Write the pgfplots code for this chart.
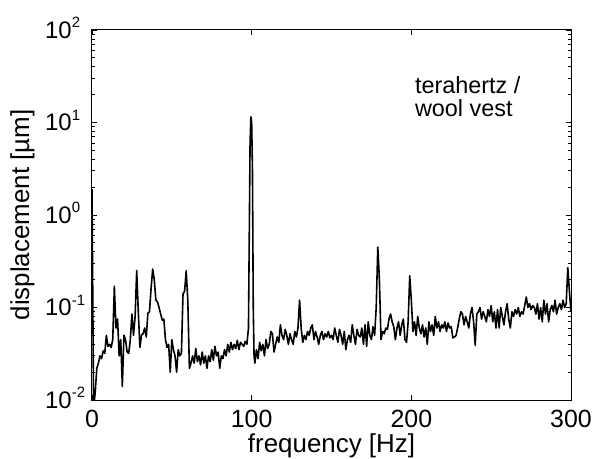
\documentclass[border=0pt]{standalone}
\usepackage{pgfplots}
\pgfplotsset{compat=1.18}
\usepackage{pgfplotstable}
\usepackage{fontspec}
\setmainfont{Liberation Sans}
\newcommand{\tenpow}[1]{10\rlap{\smash{\raisebox{10.5bp}{\fontsize{15}{15}\selectfont #1}}}}
\pgfplotstableread{
f v
0 1.9
1 0.008
2 0.012
3 0.022
4 0.025
5 0.03
6 0.028
7 0.034
8 0.032
9 0.05
10 0.038
11 0.04
12 0.037
13 0.045
14 0.17
15 0.06
16 0.075
17 0.03
18 0.045
19 0.014
20 0.05
21 0.045
22 0.033
23 0.032
24 0.045
25 0.085
26 0.05
27 0.08
28 0.25
29 0.09
30 0.037
31 0.05
32 0.052
33 0.06
34 0.048
35 0.087
36 0.09
37 0.16
38 0.26
39 0.2
40 0.12
41 0.115
42 0.1
43 0.085
44 0.073
45 0.075
46 0.045
47 0.037
48 0.04
49 0.02
50 0.045
51 0.035
52 0.03
53 0.02
54 0.035
55 0.03
56 0.032
57 0.14
58 0.15
59 0.25
60 0.12
61 0.022
62 0.025
63 0.03
64 0.025
65 0.036
66 0.026
67 0.03
68 0.024
69 0.033
70 0.025
71 0.03
72 0.022
73 0.03
74 0.026
75 0.035
76 0.027
77 0.038
78 0.03
79 0.033
80 0.022
81 0.03
82 0.028
83 0.035
84 0.03
85 0.04
86 0.033
87 0.042
88 0.035
89 0.04
90 0.036
91 0.044
92 0.035
93 0.042
94 0.04
95 0.038
96 0.043
97 0.04
98 0.06
99 6
99.5 11.5
100 10
100.5 3
101 0.1
101.5 0.03
102 0.025
103 0.035
104 0.028
105 0.042
106 0.034
107 0.04
108 0.03
109 0.045
110 0.036
111 0.04
112 0.055
113 0.052
114 0.033
115 0.04
116 0.048
117 0.042
118 0.065
119 0.05
120 0.045
121 0.058
122 0.05
123 0.04
124 0.052
125 0.045
126 0.04
127 0.055
128 0.048
129 0.06
130 0.12
131 0.06
132 0.042
133 0.05
134 0.045
135 0.055
136 0.05
137 0.06
138 0.065
139 0.045
140 0.055
141 0.048
142 0.04
143 0.05
144 0.055
145 0.045
146 0.052
147 0.048
148 0.055
149 0.047
150 0.05
151 0.045
152 0.06
153 0.05
154 0.042
155 0.058
156 0.05
157 0.04
158 0.055
159 0.035
160 0.045
161 0.05
162 0.042
163 0.065
164 0.05
165 0.04
166 0.058
167 0.05
168 0.048
169 0.06
170 0.04
171 0.065
172 0.038
173 0.07
174 0.05
175 0.045
176 0.062
177 0.05
178 0.1
179 0.45
180 0.2
181 0.045
182 0.055
183 0.052
184 0.06
185 0.058
186 0.075
187 0.085
188 0.07
189 0.062
190 0.045
191 0.06
192 0.07
193 0.05
194 0.065
195 0.075
196 0.045
197 0.042
198 0.07
199 0.22
200 0.12
201 0.055
202 0.07
203 0.05
204 0.08
205 0.06
206 0.052
207 0.065
208 0.048
209 0.06
210 0.04
211 0.07
212 0.055
213 0.065
214 0.05
215 0.08
216 0.06
217 0.07
218 0.055
219 0.065
220 0.06
221 0.07
222 0.055
223 0.068
224 0.06
225 0.062
226 0.047
227 0.048
228 0.05
229 0.06
230 0.075
231 0.09
232 0.085
233 0.065
234 0.08
235 0.07
236 0.06
237 0.085
238 0.1
239 0.07
240 0.039
241 0.085
242 0.09
243 0.1
244 0.075
245 0.09
246 0.08
247 0.07
248 0.095
249 0.08
250 0.105
251 0.07
252 0.09
253 0.06
254 0.095
255 0.06
256 0.1
257 0.08
258 0.065
259 0.09
260 0.11
261 0.075
262 0.06
263 0.09
264 0.08
265 0.095
266 0.085
267 0.1
268 0.08
269 0.09
270 0.085
271 0.105
272 0.13
273 0.1
274 0.11
275 0.095
276 0.105
277 0.1
278 0.085
279 0.11
280 0.075
281 0.1
282 0.07
283 0.12
284 0.085
285 0.11
286 0.07
287 0.095
288 0.105
289 0.09
290 0.12
291 0.085
292 0.1
293 0.11
294 0.095
295 0.12
296 0.1
297 0.11
298 0.27
299 0.15
300 0.09
}\spectrum
\begin{document}
\begin{tikzpicture}
\begin{axis}[
  scale only axis,
  width=479bp, height=370bp,
  ymode=log,
  xmin=0, xmax=300, ymin=0.01, ymax=100,
  xtick={0,100,200,300},
  ytick={0.01,0.1,1,10,100},
  yticklabels={\tenpow{-2},\tenpow{-1},\tenpow{0},\tenpow{1},\tenpow{2}},
  xticklabels={0,100,200,300},
  tick align=inside,
  xtick pos=both, ytick pos=both,
  major tick length=5bp,
  minor tick length=3bp,
  axis line style={line width=1bp},
  every tick/.style={black, line width=0.8bp},
  xticklabel style={font=\fontsize{25}{27}\selectfont, anchor=base, yshift=-27bp},
  yticklabel style={font=\fontsize{24}{26}\selectfont, anchor=east, inner sep=0pt, xshift=-20bp},
  every axis x label/.style={at={(rel axis cs:0.5,-0.141)}, anchor=base, font=\fontsize{26}{28}\selectfont},
  every axis y label/.style={at={(rel axis cs:-0.1315,0.5)}, anchor=base, rotate=90, font=\fontsize{26}{28}\selectfont},
  xlabel={frequency [Hz]},
  ylabel={displacement [µm]},
]
\addplot[black, line width=1.6bp, line join=round] table[x=f, y=v] {\spectrum};
\node[anchor=north west, align=left, font=\fontsize{23.5}{23}\selectfont, inner sep=0pt]
  at (rel axis cs:0.674,0.875) {terahertz /\\wool vest};
\coordinate (bl) at (rel axis cs:0,0);
\coordinate (tr) at (rel axis cs:1,1);
\end{axis}
\pgfresetboundingbox
\useasboundingbox ([xshift=-92bp,yshift=-59bp]bl) rectangle ([xshift=21bp,yshift=30bp]tr);
\end{tikzpicture}
\end{document}
